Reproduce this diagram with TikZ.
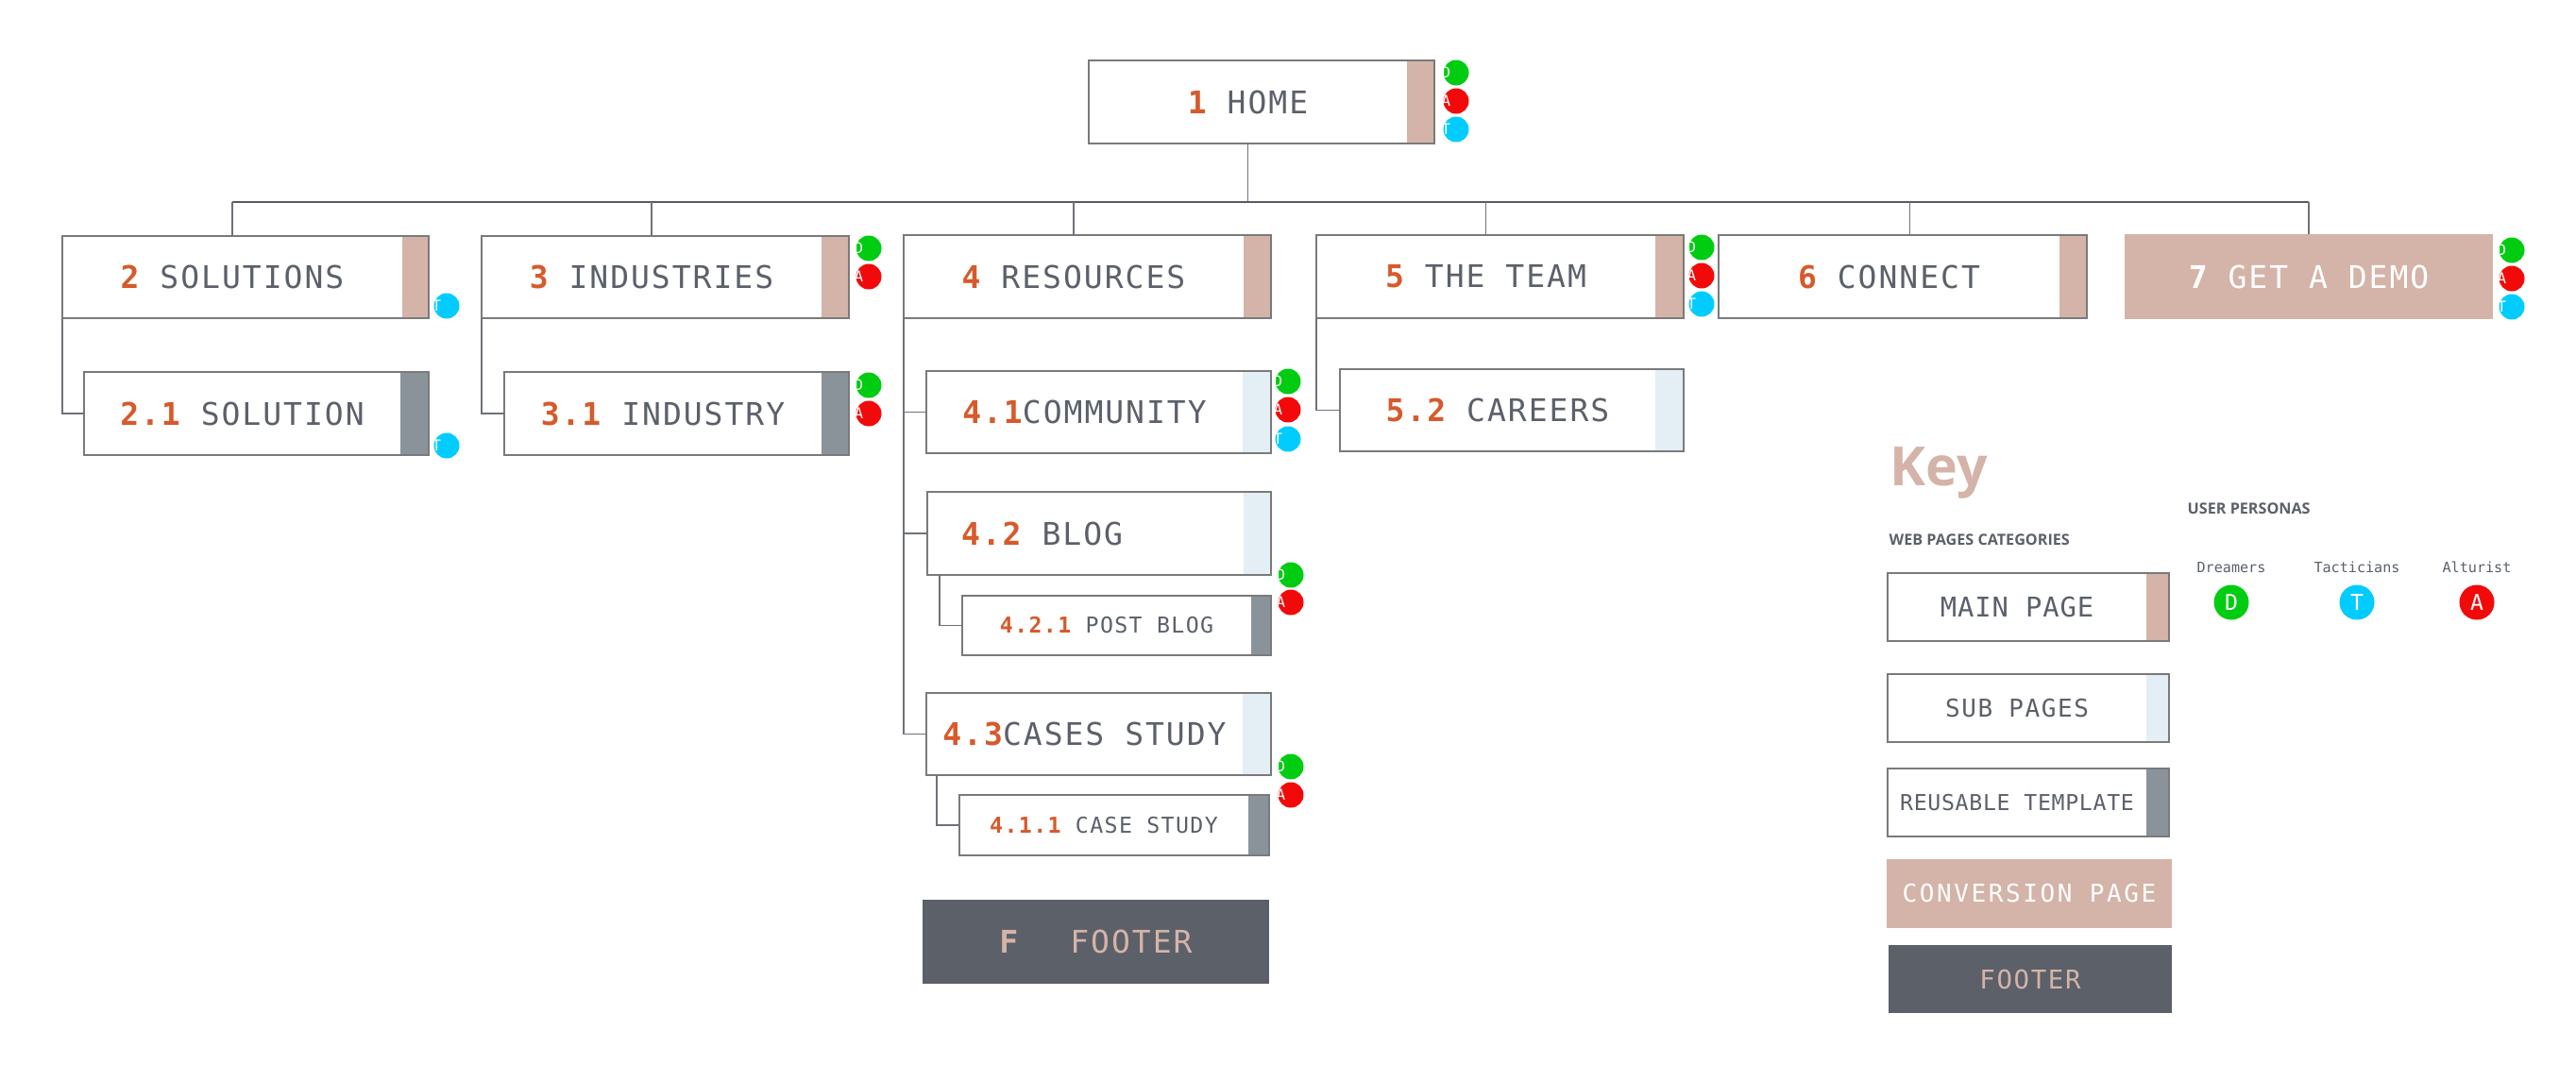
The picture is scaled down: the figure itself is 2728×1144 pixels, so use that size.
\documentclass[tikz,border=0pt]{standalone}
\usepackage{fontspec}
\usetikzlibrary{calc}
\newfontfamily\monoLS[LetterSpace=6]{DejaVu Sans Mono}
\newfontfamily\monoLT[LetterSpace=3]{DejaVu Sans Mono}
\newfontfamily\monoLW[LetterSpace=10]{DejaVu Sans Mono}
\newfontfamily\monoN{DejaVu Sans Mono}
\newfontfamily\osans{Open Sans}
\definecolor{tanc}{HTML}{D4B4A8}
\definecolor{lbluec}{HTML}{E3EFF5}
\definecolor{dgrayc}{HTML}{8A939A}
\definecolor{footc}{HTML}{5C6068}
\definecolor{txtc}{HTML}{5B606A}
\definecolor{numc}{HTML}{D65A2B}
\definecolor{bordc}{HTML}{7A7A7A}
\definecolor{linec}{HTML}{6E737A}
\definecolor{dgreen}{HTML}{00CC11}
\definecolor{dred}{HTML}{F20A0A}
\definecolor{dcyan}{HTML}{00CCFF}
\newcommand{\fmain}{\monoLS\fontsize{9.4pt}{11pt}\selectfont}
\newcommand{\fsub}{\monoLS\fontsize{6.6pt}{8pt}\selectfont}
\newcommand{\fdot}{\monoN\fontsize{4.5pt}{5pt}\selectfont}
\newcommand{\fldot}{\monoN\fontsize{6.6pt}{8pt}\selectfont}
\newcommand{\fsmall}{\monoN\fontsize{4.3pt}{5pt}\selectfont}
\newcommand{\nm}[1]{{\color{numc}\bfseries #1}}
\newcommand{\pbox}[8]{%
  \node[pg, anchor=north west, minimum width={(#4-#6)*0.1mm}, minimum height={#5*0.1mm}] (#1) at (#2,#3) {#8};
  \fill[#7] (#1.north east) rectangle ++(#6,#5);
  \draw[bord] (#1.north west) rectangle ($(#1.south east)+(#6,0)$);}
\newcommand{\pdot}[5]{\node[pdotst, fill=#4, label={[dlet]west:#5}] (#1) at (#2,#3) {};}
\begin{document}
\begin{tikzpicture}[x=0.1mm, y=-0.1mm,
  pg/.style={inner sep=0pt, outer sep=0pt, text=txtc, font=\fmain},
  fbox/.style={inner sep=0pt, outer sep=0pt, anchor=north west},
  bord/.style={draw=bordc, line width=0.25mm},
  conn/.style={draw=linec, line width=0.15mm},
  busline/.style={draw=linec!80!black, line width=0.2mm},
  pdotst/.style={circle, inner sep=0pt, outer sep=0pt, minimum size=2.7mm},
  dlet/.style={anchor=west, inner sep=0pt, outer sep=0pt, text=white, font=\fdot, xshift=-0.2mm},
  ldot/.style={circle, inner sep=0pt, outer sep=0pt, minimum size=3.7mm, text=white, font=\fldot},
  head/.style={inner sep=0pt, anchor=west, text=txtc, font=\osans\bfseries\fontsize{4.6pt}{5.5pt}\selectfont},
  plabel/.style={inner sep=0pt, text=txtc, font=\fsmall}]
\useasboundingbox (0,0) rectangle (2728,1144);

% main pages
\pbox{home}{1153}{64}{366}{88}{29}{tanc}{\nm{1} HOME}
\pbox{sol}{66}{250}{388}{87}{28}{tanc}{\nm{2} SOLUTIONS}
\pbox{sol1}{89}{394}{365}{88}{30}{dgrayc}{\nm{2.1} SOLUTION}
\pbox{ind}{510}{250}{389}{87}{29}{tanc}{\nm{3} INDUSTRIES}
\pbox{ind1}{534}{394}{365}{88}{29}{dgrayc}{\nm{3.1} INDUSTRY}
\pbox{res}{957}{249}{389}{88}{29}{tanc}{\nm{4} RESOURCES}
\pbox{com}{981}{393}{365}{87}{30}{lbluec}{\nm{4.1}COMMUNITY}
\pbox{blog}{982}{521}{364}{88}{29}{lbluec}{}
\node[pg, anchor=west] (blogtxt) at ([xshift=3.6mm]blog.west) {\nm{4.2} BLOG};
\pbox{post}{1019}{631}{327}{63}{21}{dgrayc}{\fsub\nm{4.2.1} POST BLOG}
\pbox{cases}{981}{734}{365}{87}{30}{lbluec}{\nm{4.3}CASES STUDY}
\pbox{cstudy}{1016}{842}{328}{64}{22}{dgrayc}{\fsub\nm{4.1.1} CASE STUDY}
\pbox{team}{1394}{249}{389}{88}{30}{tanc}{\nm{5} THE TEAM}
\pbox{car}{1419}{391}{364}{87}{30}{lbluec}{\nm{5.2} CAREERS}
\pbox{con}{1820}{249}{390}{88}{29}{tanc}{\nm{6} CONNECT}
\node[fbox, fill=tanc, text=white, font=\fmain, minimum width=39mm, minimum height=9mm] (demo) at (2250,248) {{\bfseries 7} GET A DEMO};
\node[fbox, fill=footc, text=tanc, font=\fmain, minimum width=36.7mm, minimum height=8.9mm] (footer) at (977,953) {{\bfseries F}\hspace{5.5mm}FOOTER\hspace{3.6mm}};

% connectors
\coordinate (bus) at (0,214);
\draw[conn] (home.south) -- (home.south |- bus);
\draw[busline] (sol.north |- bus) -- (demo.north |- bus);
\foreach \n in {sol,ind,res,team,demo}{\draw[conn] (\n.north) -- (\n.north |- bus);}
\draw[conn] ([xshift=2.2mm]con.north) -- ([xshift=2.2mm]con.north |- bus);
\draw[conn] (sol.south west) |- (sol1.west);
\draw[conn] (ind.south west) |- (ind1.west);
\draw[conn] (res.south west) |- (com.west);
\draw[conn] (res.south west) |- (blog.west);
\draw[conn] (res.south west) |- (cases.west);
\draw[conn] ([xshift=1.3mm]blog.south west) |- (post.west);
\draw[conn] ([xshift=1.1mm]cases.south west) |- (cstudy.west);
\draw[conn] (team.south west) |- (car.west);

% persona dots
\pdot{hd}{1542}{77}{dgreen}{D}
\pdot{ha}{1542}{107}{dred}{A}
\pdot{ht}{1542}{137}{dcyan}{T}
\pdot{st}{473}{324}{dcyan}{T}
\pdot{s1t}{473}{472}{dcyan}{T}
\pdot{id}{920}{263}{dgreen}{D}
\pdot{ia}{920}{293}{dred}{A}
\pdot{i1d}{920}{408}{dgreen}{D}
\pdot{i1a}{920}{438}{dred}{A}
\pdot{cd}{1364}{404}{dgreen}{D}
\pdot{ca}{1364}{434}{dred}{A}
\pdot{ct}{1364}{465}{dcyan}{T}
\pdot{bd}{1367}{609}{dgreen}{D}
\pdot{ba}{1367}{638}{dred}{A}
\pdot{csd}{1367}{812}{dgreen}{D}
\pdot{csa}{1367}{842}{dred}{A}
\pdot{td}{1802}{262}{dgreen}{D}
\pdot{ta}{1802}{292}{dred}{A}
\pdot{tt}{1802}{322}{dcyan}{T}
\pdot{dd}{2660}{265}{dgreen}{D}
\pdot{da}{2660}{295}{dred}{A}
\pdot{dt}{2660}{325}{dcyan}{T}

% key
\node[inner sep=0pt, anchor=base west, text=tanc, font=\osans\bfseries\fontsize{16.3pt}{18pt}\selectfont] (key) at (2001,514) {Key};
\node[head] (webcat) at (2000,572) {WEB PAGES CATEGORIES};
\node[head] (userp) at (2316,539) {USER PERSONAS};
\pbox{lmain}{1999}{607}{298}{72}{24}{tanc}{\monoLT\fontsize{8.2pt}{9pt}\selectfont MAIN PAGE}
\pbox{lsub}{1999}{714}{298}{72}{24}{lbluec}{\monoLS\fontsize{7.4pt}{9pt}\selectfont SUB PAGES}
\pbox{lreu}{1999}{814}{298}{72}{24}{dgrayc}{\monoLT\fontsize{6.6pt}{8pt}\selectfont REUSABLE TEMPLATE}
\node[fbox, fill=tanc, text=white, font={\monoLW\fontsize{7.4pt}{9pt}\selectfont}, minimum width=30.2mm, minimum height=7.3mm] (lconv) at (1998,910) {CONVERSION PAGE};
\node[fbox, fill=footc, text=tanc, font={\monoLS\fontsize{7.8pt}{9pt}\selectfont}, minimum width=30mm, minimum height=7.2mm] (lfoot) at (2000,1001) {FOOTER};
\node[plabel] (ldl) at (2363,601) {Dreamers};
\node[plabel] (ltl) at (2496,601) {Tacticians};
\node[plabel] (lal) at (2623,601) {Alturist};
\node[ldot, fill=dgreen] (ld) at (2363,638) {D};
\node[ldot, fill=dcyan] (lt) at (2496,638) {T};
\node[ldot, fill=dred] (la) at (2623,638) {A};
\end{tikzpicture}
\end{document}
